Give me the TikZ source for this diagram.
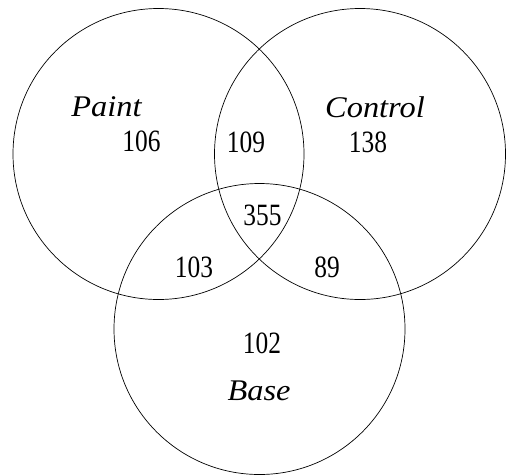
\documentclass[tikz,border=0pt]{standalone}
\usepackage{fontspec}
\setmainfont{Liberation Serif}
\usetikzlibrary{positioning}
\tikzset{
  ensemble/.style={circle, draw=black, line width=0.7pt, minimum size=291pt, inner sep=0pt},
  nom/.style={anchor=base, inner sep=0pt, xscale=1.08, font=\fontsize{30}{33}\selectfont\itshape},
  effectif/.style={anchor=base, inner sep=0pt, xscale=0.82, font=\fontsize{31}{34}\selectfont},
}
\begin{document}
\begin{tikzpicture}[x=1pt, y=-1pt]
  \useasboundingbox (0,0) rectangle (508,475);
  % les trois ensembles
  \node[ensemble] (paint) at (158.5,154) {};
  \node[ensemble] (control) at (360,154) {};
  \node[ensemble] (base) at (259.5,329) {};
  % noms
  \node[nom] (npaint) at (106.5,116.7) {Paint};
  \node[nom] (ncontrol) at (375,117) {Control};
  \node[nom] (nbase) at (259,400) {Base};
  % effectifs
  \node[effectif] (e106) at (141.5,151.7) {106};
  \node[effectif] (e109) at (246,152) {109};
  \node[effectif] (e138) at (368,152) {138};
  \node[effectif] (e355) at (262.5,225) {355};
  \node[effectif] (e103) at (194,277) {103};
  \node[effectif] (e89) at (327,277) {89};
  \node[effectif] (e102) at (262,353) {102};
\end{tikzpicture}
\end{document}
